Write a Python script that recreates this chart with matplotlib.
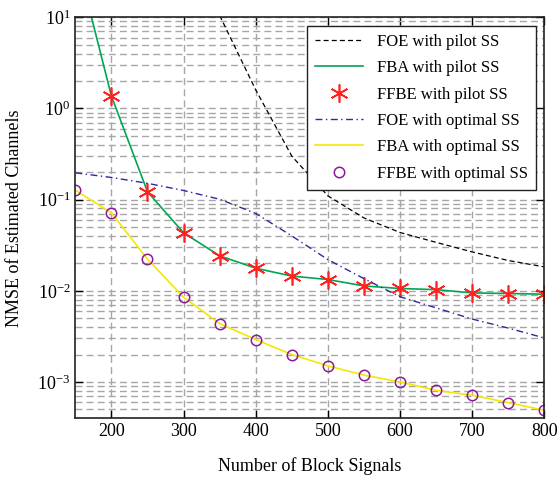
import numpy as np
import matplotlib
matplotlib.use("Agg")
import matplotlib.pyplot as plt
from matplotlib.ticker import LogLocator, NullFormatter

plt.rcParams['font.family'] = ['Liberation Serif', 'DejaVu Serif']
plt.rcParams['mathtext.fontset'] = 'stix'

# block signal counts
n_blocks = [150, 200, 250, 300, 350, 400, 450, 500, 550, 600, 650, 700, 750, 800]

# FOE with pilot SS (starts above the top of the axes)
foe_pilot_x = [350, 400, 450, 500, 550, 600, 650, 700, 750, 800]
foe_pilot = [10.5, 1.6, 0.30, 0.11, 0.063, 0.0436, 0.034, 0.0267, 0.0215, 0.0183]

# FBA / FFBE with pilot SS
fba_pilot = [50.0, 1.37, 0.122, 0.0433, 0.0242, 0.0177, 0.0145, 0.0133,
             0.0113, 0.0106, 0.0103, 0.00948, 0.00934, 0.00918]
ffbe_pilot_x = n_blocks[1:]
ffbe_pilot = fba_pilot[1:]

# FOE with optimal SS
foe_opt = [0.197, 0.175, 0.151, 0.126, 0.101, 0.0706, 0.040, 0.022,
           0.0136, 0.0086, 0.0065, 0.0049, 0.0039, 0.00304]

# FBA / FFBE with optimal SS
fba_opt = [0.127, 0.0716, 0.0222, 0.00851, 0.00437, 0.00292, 0.0020, 0.0015,
           0.00119, 0.0010, 0.00081, 0.000715, 0.000594, 0.000489]
ffbe_opt = fba_opt

fig = plt.figure(figsize=(5.58, 4.78), dpi=100)
ax = fig.add_axes([0.135, 0.125, 0.8405, 0.8388])

ax.plot(foe_pilot_x, foe_pilot, '--', color='black', lw=0.9, dashes=(4, 2.5),
        label='FOE with pilot SS')
ax.plot(n_blocks, fba_pilot, '-', color='#00a651', lw=1.2, label='FBA with pilot SS')
ax.plot(ffbe_pilot_x, ffbe_pilot, ls='none', marker=(6, 2, 0), ms=13, mew=1.2,
        color='#ff2020', label='FFBE with pilot SS')
ax.plot(n_blocks, foe_opt, '-.', color='#2b2b9a', lw=1.0, dashes=(5, 2.5, 1, 2.5),
        label='FOE with optimal SS')
ax.plot(n_blocks, fba_opt, '-', color='#f5e800', lw=1.2, label='FBA with optimal SS')
ax.plot(n_blocks, ffbe_opt, ls='none', marker='o', ms=7.5, mew=1.1,
        mfc='none', mec='#8b1a9b', label='FFBE with optimal SS')

ax.set_yscale('log')
ax.set_xlim(150, 800)
ax.set_ylim(4e-4, 10)
ax.set_xticks([200, 300, 400, 500, 600, 700, 800])
ax.yaxis.set_major_locator(LogLocator(base=10, numticks=10))
ax.yaxis.set_minor_locator(LogLocator(base=10, subs=np.arange(2, 10), numticks=10))
ax.yaxis.set_minor_formatter(NullFormatter())

ax.grid(True, which='major', color='#a6a6a6', ls=(0, (5, 3)), lw=1.0)
ax.grid(True, which='minor', axis='y', color='#a6a6a6', ls=(0, (5, 3)), lw=1.0)
ax.tick_params(which='both', direction='in', top=True, right=True, labelsize=13)
ax.tick_params(which='major', length=6, width=1.0)
ax.tick_params(which='minor', length=0)
for sp in ax.spines.values():
    sp.set_linewidth(1.2)
    sp.set_color('#222222')

ax.set_xlabel('Number of Block Signals', fontsize=13, labelpad=12)
ax.set_ylabel('NMSE of Estimated Channels', fontsize=13, labelpad=10)

leg = ax.legend(loc='upper right', fontsize=12, fancybox=False, framealpha=1,
                edgecolor='#222222', borderaxespad=0.5, handlelength=2.9,
                handletextpad=0.8, labelspacing=0.62, borderpad=0.5)
leg.get_frame().set_linewidth(1.0)

fig.savefig('out.png', dpi=100)
